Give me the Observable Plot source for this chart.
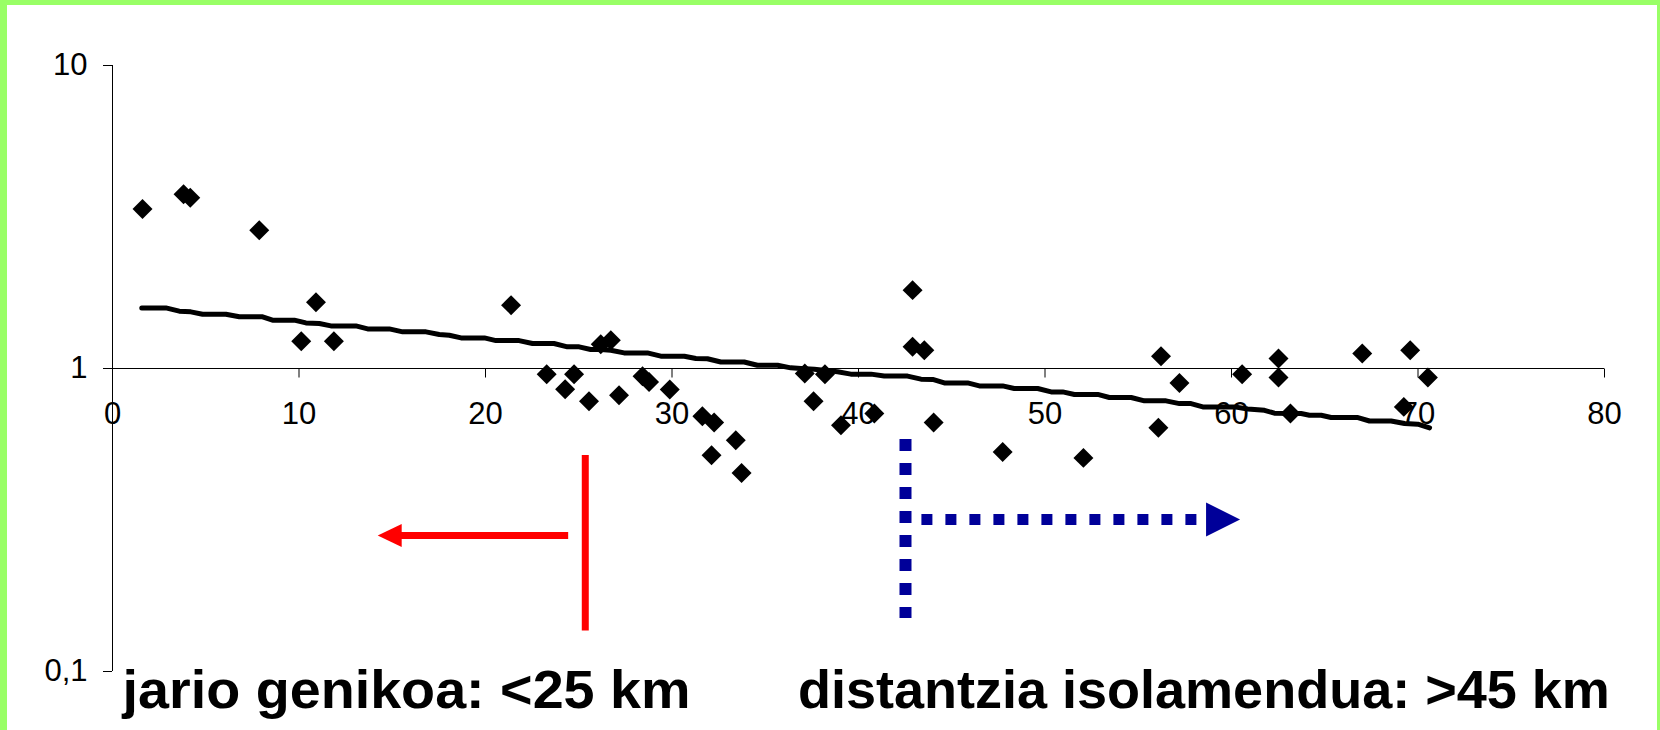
<!DOCTYPE html>
<html>
<head>
<meta charset="utf-8">
<script src="https://cdn.jsdelivr.net/npm/d3@7"></script>
<script src="https://cdn.jsdelivr.net/npm/@observablehq/plot@0.6"></script>
<style>
  html, body { margin: 0; padding: 0; background: #fff; }
  #wrap { position: relative; width: 1660px; height: 730px; overflow: hidden; background: #fff; }
  #border { position: absolute; left: 0; top: 0; width: 1660px; height: 730px; box-sizing: border-box;
            border-style: solid; border-color: #99FF66; border-width: 5px 3px 0 7px; pointer-events: none; }
</style>
</head>
<body>
<div id="wrap"><div id="border"></div></div>
<script>
// ---- data ----
const pointDistance = [1.61, 3.81, 4.17, 7.87, 10.12, 10.91, 11.87, 21.37, 23.28, 24.27, 24.75, 25.55, 26.18, 26.72, 27.16,
  28.42, 28.77, 29.88, 31.63, 32.12, 32.26, 33.42, 33.73, 37.12, 37.59, 38.20, 39.06, 40.85, 42.90, 42.90, 43.53, 44.03,
  47.73, 52.06, 56.08, 56.22, 57.21, 60.57, 62.52, 62.52, 63.16, 67.01, 69.24, 69.58, 70.53];
const pointValue = [3.36, 3.76, 3.66, 2.86, 1.23, 1.655, 1.23, 1.618, 0.958, 0.854, 0.958, 0.780, 1.203, 1.240, 0.816,
  0.943, 0.903, 0.852, 0.696, 0.517, 0.663, 0.580, 0.452, 0.963, 0.780, 0.958, 0.650, 0.710, 1.814, 1.179, 1.149, 0.663,
  0.530, 0.507, 0.637, 1.098, 0.896, 0.958, 1.079, 0.934, 0.710, 1.121, 0.747, 1.149, 0.934];

const trendDistance = [1.57, 2.86, 3.58, 4.20, 4.83, 6.08, 6.80, 8.05, 8.58, 9.75, 10.37, 11.09, 11.71, 13.05, 13.68, 14.84,
  15.56, 16.81, 17.52, 18.06, 18.69, 19.94, 20.56, 21.80, 22.52, 23.67, 24.39, 25.02, 25.64, 26.18, 26.72, 27.43, 28.68,
  29.40, 30.66, 31.28, 31.90, 32.62, 33.87, 34.58, 35.66, 36.37, 36.91, 37.63, 38.88, 39.59, 40.67, 41.38, 42.63, 43.35,
  43.98, 44.60, 45.85, 46.48, 47.73, 48.35, 49.61, 50.33, 50.95, 51.58, 52.83, 53.45, 54.62, 55.33, 56.49, 57.21, 57.83,
  58.46, 60.16, 60.87, 61.77, 62.30, 63.73, 64.18, 64.81, 65.34, 66.78, 67.40, 68.56, 69.28, 69.99, 70.62];
const trendValue = [1.585, 1.585, 1.546, 1.538, 1.511, 1.511, 1.481, 1.481, 1.444, 1.444, 1.414, 1.408, 1.382, 1.382, 1.351,
  1.351, 1.321, 1.321, 1.295, 1.288, 1.262, 1.262, 1.236, 1.236, 1.209, 1.209, 1.179, 1.179, 1.155, 1.155, 1.149, 1.126,
  1.126, 1.098, 1.098, 1.079, 1.077, 1.051, 1.051, 1.025, 1.025, 1.005, 1.000, 0.995, 0.975, 0.958, 0.958, 0.944, 0.944,
  0.922, 0.920, 0.896, 0.896, 0.876, 0.876, 0.859, 0.859, 0.837, 0.837, 0.821, 0.821, 0.802, 0.802, 0.782, 0.782, 0.766,
  0.766, 0.747, 0.747, 0.735, 0.728, 0.712, 0.710, 0.701, 0.701, 0.689, 0.689, 0.671, 0.671, 0.658, 0.655, 0.637];

const xTicks = [0, 10, 20, 30, 40, 50, 60, 70, 80];
const xTickLabels = ["0", "10", "20", "30", "40", "50", "60", "70", "80"];
const yTicks = [0.1, 1, 10];
const yTickLabels = ["0,1", "1", "10"];

const captions = ["jario genikoa: <25 km", "distantzia isolamendua: >45 km"];
const captionX = [0.54, 36.75];

// annotation lines (data units)
const redLimit = [{x: 25.35, y1: 0.136, y2: 0.516}];
const redArrow = [{x1: 14.22, x2: 24.46, y: 0.281}];
const blueLimit = [{x: 42.52, y1: 0.583, y2: 0.1496}];
const blueArrow = [{x1: 43.40, x2: 58.21, tip: 60.46, y: 0.3174}];

// ---- build ----
const points = pointDistance.map((d, i) => ({d, v: pointValue[i]}));
const trend = trendDistance.map((d, i) => ({d, v: trendValue[i]}));

const tickDown = { draw(ctx) { ctx.moveTo(0, 0); ctx.lineTo(0, 9); } };
const triLeft = { draw(ctx) { ctx.moveTo(0, 0); ctx.lineTo(24, -11.5); ctx.lineTo(24, 11.5); ctx.closePath(); } };
const triRight = { draw(ctx) { ctx.moveTo(0, 0); ctx.lineTo(-34, -17); ctx.lineTo(-34, 17); ctx.closePath(); } };

const chart = Plot.plot({
  width: 1660,
  height: 730,
  marginLeft: 112,
  marginRight: 56,
  marginTop: 65,
  marginBottom: 59,
  style: {background: "transparent", fontFamily: "'Liberation Sans', Arial, sans-serif", overflow: "visible", color: "black"},
  x: {domain: [0, 80], axis: null},
  y: {type: "log", domain: [0.1, 10]},
  marks: [
    // y axis
    Plot.ruleX([0], {y1: 0.1, y2: 10, stroke: "black", strokeWidth: 1}),
    Plot.axisY(yTicks, {tickFormat: d => yTickLabels[yTicks.indexOf(d)], tickSize: 9, tickPadding: 16,
      fontSize: 31, stroke: "black", fill: "black", label: null}),
    // x axis crossing at 1
    Plot.ruleY([1], {x1: 0, x2: 80, stroke: "black", strokeWidth: 1}),
    Plot.dot(xTicks, {x: d => d, y: () => 1, symbol: tickDown, stroke: "black", strokeWidth: 1, fill: "none"}),
    Plot.text(xTicks, {x: d => d, y: () => 1, text: (d, i) => xTickLabels[i], dy: 46, fontSize: 31, fill: "black"}),
    // trend line
    Plot.line(trend, {x: "d", y: "v", stroke: "black", strokeWidth: 5, strokeLinejoin: "round", strokeLinecap: "round"}),
    // observations
    Plot.dot(points, {x: "d", y: "v", symbol: "diamond2", r: 9, fill: "black"}),
    // red annotation
    Plot.ruleX(redLimit, {x: "x", y1: "y1", y2: "y2", stroke: "#FF0000", strokeWidth: 7}),
    Plot.ruleY(redArrow, {x1: "x1", x2: "x2", y: "y", stroke: "#FF0000", strokeWidth: 7, insetLeft: 12}),
    Plot.dot(redArrow, {x: "x1", y: "y", symbol: triLeft, fill: "#FF0000"}),
    // blue annotation
    Plot.ruleX(blueLimit, {x: "x", y1: "y1", y2: "y2", stroke: "#000099", strokeWidth: 12, strokeDasharray: "12,12"}),
    Plot.ruleY(blueArrow, {x1: "x1", x2: "x2", y: "y", stroke: "#000099", strokeWidth: 11, strokeDasharray: "11,13"}),
    Plot.dot(blueArrow, {x: "tip", y: "y", symbol: triRight, fill: "#000099"}),
    // captions
    Plot.text(captions, {x: (d, i) => captionX[i], y: () => 0.1, dy: 20, text: d => d, textAnchor: "start",
      fontSize: 53, fontWeight: "bold", fontFamily: "'Liberation Sans', Arial, sans-serif", fill: "black"})
  ]
});

document.getElementById("wrap").insertBefore(chart, document.getElementById("border"));

// fit caption widths to the reference
const captionWidths = [568, 812];
chart.querySelectorAll("text").forEach(t => {
  const k = captions.indexOf(t.textContent);
  if (k >= 0) {
    t.setAttribute("textLength", captionWidths[k]);
    t.setAttribute("lengthAdjust", "spacingAndGlyphs");
  }
});
</script>
</body>
</html>
